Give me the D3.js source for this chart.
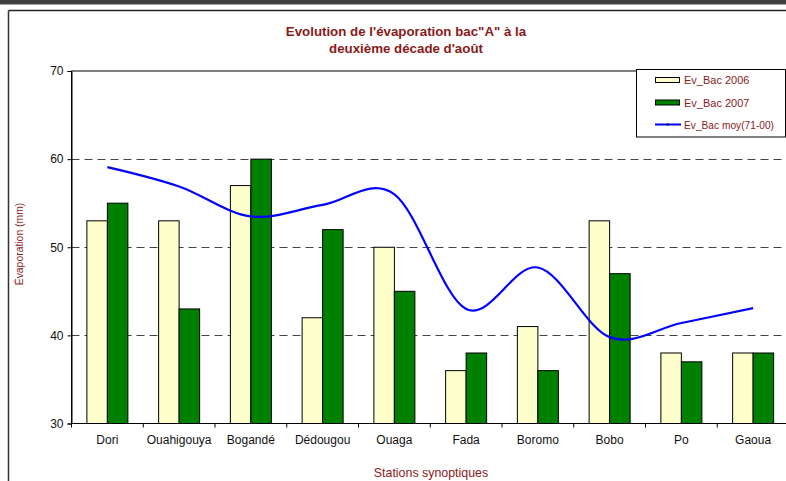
<!DOCTYPE html>
<html>
<head>
<meta charset="utf-8">
<script src="https://cdn.jsdelivr.net/npm/d3@7"></script>
<style>
  html, body { margin: 0; padding: 0; background: #fff; }
  svg { display: block; font-family: "Liberation Sans", Arial, sans-serif; }
</style>
</head>
<body>
<svg id="chart" width="786" height="481"></svg>
<script>
const categories = ["Dori", "Ouahigouya", "Bogandé", "Dédougou", "Ouaga", "Fada", "Boromo", "Bobo", "Po", "Gaoua"];
const bac2006 = [53, 53, 57, 42, 50, 36, 41, 53, 38, 38];
const bac2007 = [55, 43, 60, 52, 45, 38, 36, 47, 37, 38];
const bacMoy = [59.1, 56.9, 53.5, 54.8, 56.0, 43.0, 47.7, 39.8, 41.4, 43.1];
const yTicks = [30, 40, 50, 60, 70];
const gridValues = [40, 50, 60];
const seriesNames = ["Ev_Bac 2006", "Ev_Bac 2007", "Ev_Bac moy(71-00)"];
const titleLines = ["Evolution de l'évaporation bac\"A\" à la", "deuxième décade d'août"];
const yTitle = "Évaporation (mm)";
const xTitle = "Stations synoptiques";

const svg = d3.select("#chart");
const red = "#8b1a1a";
const pLeft = 71.5, pRight = 789, pTop = 71, pBottom = 423.5;

// outer frame
svg.append("rect").attr("x", 0).attr("y", 0).attr("width", 786).attr("height", 4.5).attr("fill", "#404040");
svg.append("line").attr("x1", 8.5).attr("x2", 786).attr("y1", 10.5).attr("y2", 10.5).attr("stroke", "#222").attr("stroke-width", 1.5);
svg.append("line").attr("x1", 8.5).attr("x2", 8.5).attr("y1", 10.5).attr("y2", 481).attr("stroke", "#333").attr("stroke-width", 1.5);

const x = d3.scaleBand().domain(categories).range([pLeft, pRight]).padding(0);
const w = x.bandwidth() / 3.5;
const x1 = d3.scaleBand().domain(["2006", "2007"]).range([0.75 * w, 2.75 * w]).padding(0);
const y = d3.scaleLinear().domain([30, 70]).range([pBottom, pTop]);

// plot frame
svg.append("rect").attr("x", pLeft).attr("y", pTop).attr("width", pRight - pLeft).attr("height", pBottom - pTop)
  .attr("fill", "none").attr("stroke", "#000").attr("stroke-width", 1);

// gridlines
svg.append("g").selectAll("line").data(gridValues).join("line")
  .attr("x1", pLeft).attr("x2", pRight)
  .attr("y1", d => Math.round(y(d)) + 0.5).attr("y2", d => Math.round(y(d)) + 0.5)
  .attr("stroke", "#444").attr("stroke-width", 1).attr("stroke-dasharray", "8,5");

// bars
const bars = svg.append("g");
categories.forEach((c, i) => {
  [["2006", bac2006[i], "#ffffcc"], ["2007", bac2007[i], "#008000"]].forEach(([s, v, col]) => {
    bars.append("rect")
      .attr("x", x(c) + x1(s)).attr("width", x1.bandwidth())
      .attr("y", y(v)).attr("height", y(30) - y(v))
      .attr("fill", col).attr("stroke", "#000").attr("stroke-width", 1);
  });
});

// line
const line = d3.line().x((d, i) => x(categories[i]) + x.bandwidth() / 2).y(d => y(d)).curve(d3.curveCatmullRom.alpha(0));
svg.append("path").datum(bacMoy).attr("d", line).attr("fill", "none").attr("stroke", "#0000ff").attr("stroke-width", 2.2);

// y axis
const yAxis = d3.axisLeft(y).tickValues(yTicks).tickSize(4).tickPadding(4).tickFormat(d3.format("d"));
const ya = svg.append("g").attr("transform", `translate(${pLeft},0)`).call(yAxis);
ya.select(".domain").attr("stroke", "#000");
ya.selectAll("text").attr("font-size", 12).attr("fill", "#111").attr("font-family", "Liberation Sans, Arial, sans-serif");

// x axis
const xa = svg.append("g").attr("transform", `translate(0,${pBottom})`);
xa.append("line").attr("x1", pLeft).attr("x2", pRight).attr("y1", 0).attr("y2", 0).attr("stroke", "#000");
xa.selectAll("line.tk").data(categories).join("line").attr("class", "tk")
  .attr("x1", d => x(d)).attr("x2", d => x(d)).attr("y1", 0).attr("y2", 4).attr("stroke", "#000");
xa.selectAll("text").data(categories).join("text")
  .attr("x", d => x(d) + x.bandwidth() / 2).attr("y", 20)
  .attr("text-anchor", "middle").attr("font-size", 12).attr("fill", "#111").text(d => d);

// titles
svg.append("g").selectAll("text").data(titleLines).join("text")
  .attr("x", 406).attr("y", (d, i) => 35.5 + i * 17)
  .attr("text-anchor", "middle").attr("font-size", 13.3).attr("font-weight", "bold").attr("fill", red).text(d => d);
svg.append("text").attr("transform", "translate(23,244) rotate(-90)")
  .attr("text-anchor", "middle").attr("font-size", 10.4).attr("fill", red).text(yTitle);
svg.append("text").attr("x", 431).attr("y", 477)
  .attr("text-anchor", "middle").attr("font-size", 12.4).attr("fill", red).text(xTitle);

// legend
const lg = svg.append("g");
lg.append("rect").attr("x", 636.5).attr("y", 69.5).attr("width", 149).attr("height", 67.5)
  .attr("fill", "#fff").attr("stroke", "#000").attr("stroke-width", 1);
const ly = [80, 102.5, 124.5];
lg.append("rect").attr("x", 655.5).attr("y", ly[0] - 2.5).attr("width", 24).attr("height", 5).attr("fill", "#ffffcc").attr("stroke", "#000");
lg.append("rect").attr("x", 655.5).attr("y", ly[1] - 2.5).attr("width", 24).attr("height", 5).attr("fill", "#008000").attr("stroke", "#000");
lg.append("line").attr("x1", 655).attr("x2", 681).attr("y1", ly[2]).attr("y2", ly[2]).attr("stroke", "#0000ff").attr("stroke-width", 2);
lg.append("rect").attr("x", 666.5).attr("y", ly[2] - 1).attr("width", 2).attr("height", 2).attr("fill", "#000");
lg.selectAll("text").data(seriesNames).join("text")
  .attr("x", 684).attr("y", (d, i) => ly[i] + 4)
  .attr("font-size", 11).attr("fill", red)
  .attr("textLength", (d, i) => i === 2 ? 90 : null)
  .attr("lengthAdjust", "spacingAndGlyphs")
  .text(d => d);
</script>
</body>
</html>
